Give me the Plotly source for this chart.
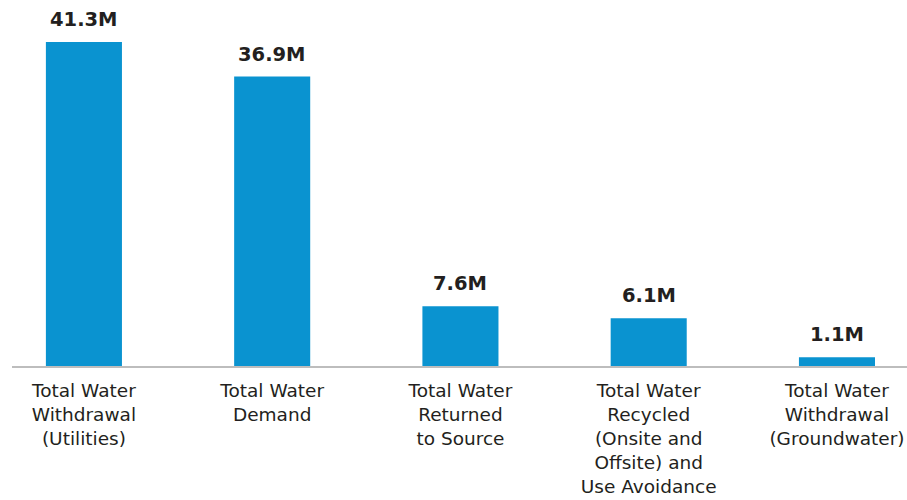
import plotly.graph_objects as go

categories = [
    "Total Water<br>Withdrawal<br>(Utilities)",
    "Total Water<br>Demand",
    "Total Water<br>Returned<br>to Source",
    "Total Water<br>Recycled<br>(Onsite and<br>Offsite) and<br>Use Avoidance",
    "Total Water<br>Withdrawal<br>(Groundwater)",
]
values = [41.3, 36.9, 7.6, 6.1, 1.1]
value_labels = ["41.3M", "36.9M", "7.6M", "6.1M", "1.1M"]

idx = list(range(len(categories)))

fig = go.Figure()
fig.add_trace(go.Bar(
    x=idx, y=values, width=0.404,
    marker=dict(color="#0a93d0", line=dict(width=0)),
    hoverinfo="skip",
))

for i, v, t in zip(idx, values, value_labels):
    fig.add_annotation(x=i, y=v, text="<b>" + t + "</b>", showarrow=False,
                       yanchor="bottom", yshift=9,
                       font=dict(family="DejaVu Sans", size=19.5, color="#231f20"))

fig.update_layout(
    width=907, height=500,
    margin=dict(l=12, r=0, t=0, b=134),
    plot_bgcolor="white", paper_bgcolor="white",
    showlegend=False,
    font=dict(family="DejaVu Sans", size=18, color="#231f20"),
    xaxis=dict(
        range=[-0.382, 4.372],
        tickmode="array", tickvals=idx, ticktext=categories,
        showline=True, linecolor="#bdbdbd", linewidth=2,
        showgrid=False, zeroline=False, ticks="",
        automargin=False, ticklabelstandoff=7,
        tickfont=dict(family="DejaVu Sans", size=18.5, color="#231f20"),
    ),
    yaxis=dict(range=[0, 46.65], visible=False, showgrid=False, zeroline=False,
               automargin=False),
)

fig.write_html("out.html", config={"displayModeBar": False},
               post_script="document.body.style.margin='0px';document.body.style.overflow='hidden';")
